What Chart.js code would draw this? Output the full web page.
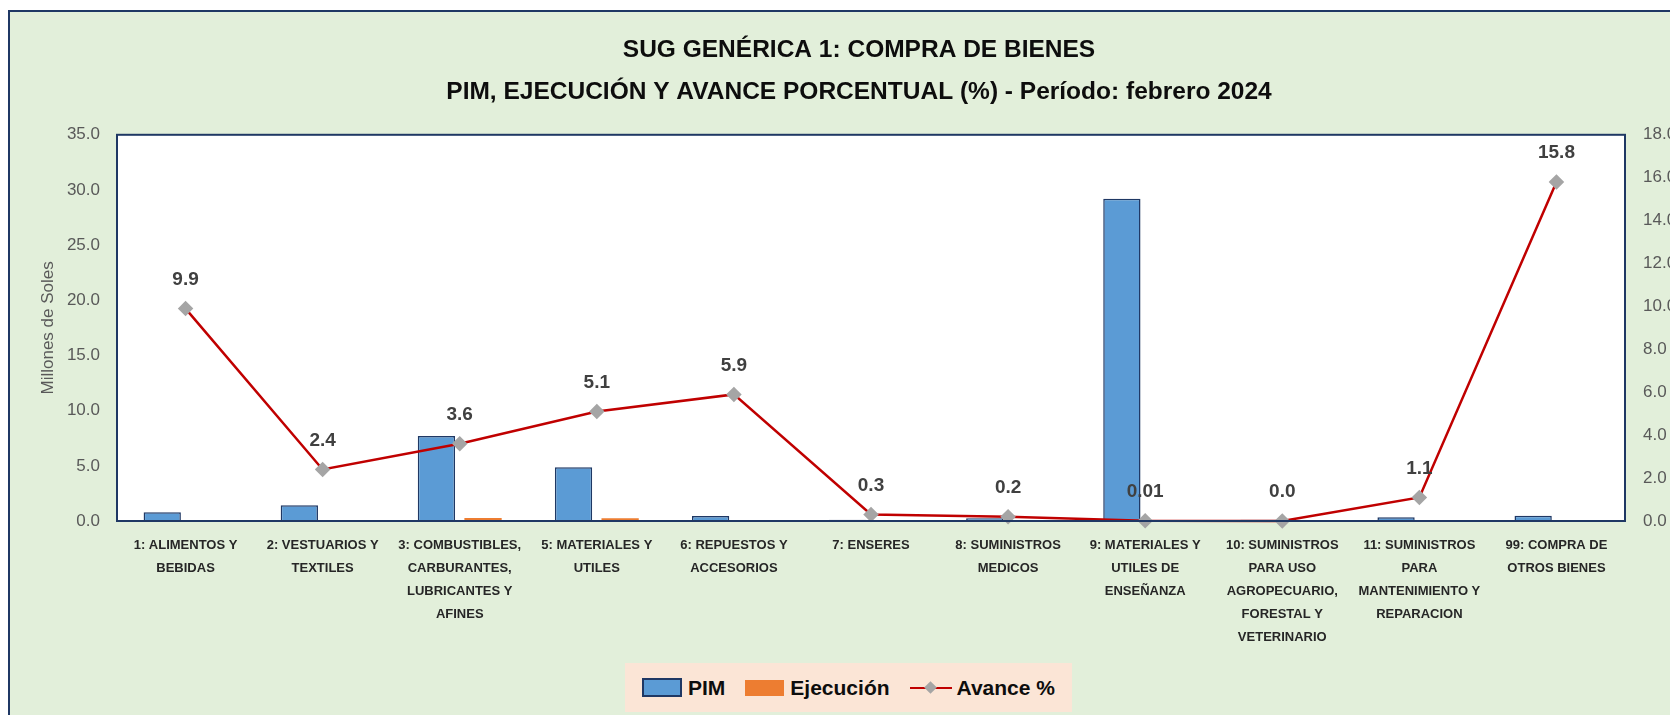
<!DOCTYPE html>
<html>
<head>
<meta charset="utf-8">
<script src="https://cdn.jsdelivr.net/npm/chart.js@4.4.1/dist/chart.umd.min.js"></script>
<style>
  html, body { margin: 0; padding: 0; background: #fff; overflow: hidden; width: 1670px; height: 715px; }
  #marco {
    position: absolute; left: 8px; top: 10px; width: 1700px; height: 720px;
    background: #E2EFDA; border-top: 2px solid #1F3864; border-left: 2px solid #1F3864;
  }
  #lienzo { position: absolute; left: 0; top: 0; }
  #leyenda {
    position: absolute; left: 625px; top: 663px; width: 447px; height: 49px;
    background: #FBE5D6; display: flex; align-items: center; justify-content: center;
    font-family: "Liberation Sans", Arial, sans-serif; white-space: nowrap;
    font-weight: bold; font-size: 21px; color: #0D0D0D;
  }
  .item { display: flex; align-items: center; margin: 0 10px; }
  .caja { width: 36px; height: 15px; margin-right: 6px; }
  .pim { background: #5B9BD5; border: 2px solid #1F3864; }
  .eje { background: #ED7D31; width: 39px; height: 16px; }
  .linea { position: relative; width: 42px; height: 16px; margin-right: 5px; }
  .linea:before { content: ""; position: absolute; left: 0; right: 0; top: 7px; height: 2.5px; background: #C00000; }
  .linea:after { content: ""; position: absolute; left: 16px; top: 3px; width: 9px; height: 9px; background: #A5A5A5; transform: rotate(45deg); }
</style>
</head>
<body>
<div id="marco">
  <canvas id="lienzo" width="1698" height="703"></canvas>
</div>
<div id="leyenda">
  <div class="item"><div class="caja pim"></div>PIM</div>
  <div class="item"><div class="caja eje"></div>Ejecución</div>
  <div class="item"><div class="linea"></div>Avance %</div>
</div>
<script>
// ============================
// DATOS
// ============================
const categorias = [
  ["1: ALIMENTOS Y", "BEBIDAS"],
  ["2: VESTUARIOS Y", "TEXTILES"],
  ["3: COMBUSTIBLES,", "CARBURANTES,", "LUBRICANTES Y", "AFINES"],
  ["5: MATERIALES Y", "UTILES"],
  ["6: REPUESTOS Y", "ACCESORIOS"],
  ["7: ENSERES"],
  ["8: SUMINISTROS", "MEDICOS"],
  ["9: MATERIALES Y", "UTILES DE", "ENSEÑANZA"],
  ["10: SUMINISTROS", "PARA USO", "AGROPECUARIO,", "FORESTAL Y", "VETERINARIO"],
  ["11: SUMINISTROS", "PARA", "MANTENIMIENTO Y", "REPARACION"],
  ["99: COMPRA DE", "OTROS BIENES"]
];
const pim = [0.79, 1.42, 7.7, 4.87, 0.45, 0.12, 0.25, 29.2, 0.12, 0.34, 0.48];
const ejecucion = [0.08, 0.03, 0.27, 0.25, 0.03, 0.0, 0.0, 0.0, 0.0, 0.0, 0.08];
const avance = [9.9, 2.4, 3.6, 5.1, 5.9, 0.3, 0.2, 0.01, 0.0, 1.1, 15.8];
const etiquetasAvance = ["9.9", "2.4", "3.6", "5.1", "5.9", "0.3", "0.2", "0.01", "0.0", "1.1", "15.8"];

const titulo = ["SUG GENÉRICA 1: COMPRA DE BIENES", "PIM, EJECUCIÓN Y AVANCE PORCENTUAL (%) - Período: febrero 2024"];

const FUENTE = '"Liberation Sans", Arial, sans-serif';
Chart.defaults.font.family = FUENTE;

// fondo blanco y marco del área de trazado
const fondoArea = {
  id: "fondoArea",
  beforeDatasetsDraw(chart) {
    const { ctx, chartArea: a } = chart;
    ctx.save();
    ctx.fillStyle = "#fff";
    ctx.fillRect(a.left, a.top, a.right - a.left, a.bottom - a.top);
    ctx.restore();
  },
  afterDatasetsDraw(chart) {
    const { ctx, chartArea: a } = chart;
    ctx.save();
    ctx.strokeStyle = "#1F3864";
    ctx.lineWidth = 2;
    ctx.strokeRect(a.left, a.top, a.right - a.left, a.bottom - a.top);
    ctx.restore();
  }
};

// etiquetas de la línea de avance
const etiquetas = {
  id: "etiquetas",
  afterDraw(chart) {
    const { ctx } = chart;
    const meta = chart.getDatasetMeta(2);
    ctx.save();
    ctx.font = "bold 19px " + FUENTE;
    ctx.fillStyle = "#404040";
    ctx.textAlign = "center";
    ctx.textBaseline = "middle";
    meta.data.forEach((p, i) => {
      ctx.fillText(etiquetasAvance[i], p.x, p.y - 29);
    });
    ctx.restore();
  }
};

new Chart(document.getElementById("lienzo"), {
  type: "bar",
  data: {
    labels: categorias,
    datasets: [
      {
        label: "PIM",
        data: pim,
        backgroundColor: "#5B9BD5",
        borderColor: "#1F3864",
        borderWidth: 1.5,
        yAxisID: "y",
        order: 1
      },
      {
        label: "Ejecución",
        data: ejecucion,
        backgroundColor: "#ED7D31",
        borderWidth: 0,
        yAxisID: "y",
        order: 1
      },
      {
        type: "line",
        label: "Avance %",
        data: avance,
        borderColor: "#C00000",
        borderWidth: 2.5,
        tension: 0,
        pointStyle: "rectRot",
        pointRadius: 6,
        pointBackgroundColor: "#A5A5A5",
        pointBorderColor: "#A5A5A5",
        yAxisID: "y1",
        clip: false,
        order: 0
      }
    ]
  },
  options: {
    responsive: false,
    animation: false,
    layout: { padding: 0 },
    datasets: { bar: { categoryPercentage: 0.68, barPercentage: 0.8 } },
    plugins: {
      legend: { display: false },
      tooltip: { enabled: false },
      title: {
        display: true,
        text: titulo,
        color: "#0D0D0D",
        font: { size: 24.5, weight: "bold", lineHeight: 1.71 },
        padding: { top: 17, bottom: 22 }
      }
    },
    scales: {
      x: {
        grid: { display: false, drawTicks: false },
        border: { display: false },
        ticks: {
          color: "#262626",
          font: { size: 13, weight: "bold", lineHeight: 1.77 },
          padding: 13,
          maxRotation: 0,
          autoSkip: false
        },
        afterFit(s) { s.height = 703 - 509; }
      },
      y: {
        position: "left",
        min: 0, max: 35,
        grid: { display: false, drawTicks: false },
        border: { display: false },
        ticks: {
          stepSize: 5,
          color: "#595959",
          font: { size: 17 },
          padding: 17,
          callback: v => v.toFixed(1)
        },
        title: {
          display: true,
          text: "Millones de Soles",
          color: "#595959",
          font: { size: 17 },
          padding: { top: 28, bottom: 0 }
        },
        afterFit(s) { s.width = 107; }
      },
      y1: {
        position: "right",
        min: 0, max: 18,
        grid: { display: false, drawTicks: false },
        border: { display: false },
        ticks: {
          stepSize: 2,
          color: "#595959",
          font: { size: 17 },
          padding: 18,
          callback: v => v.toFixed(1)
        },
        afterFit(s) { s.width = 1698 - 1615; }
      }
    }
  },
  plugins: [fondoArea, etiquetas]
});
</script>
</body>
</html>
